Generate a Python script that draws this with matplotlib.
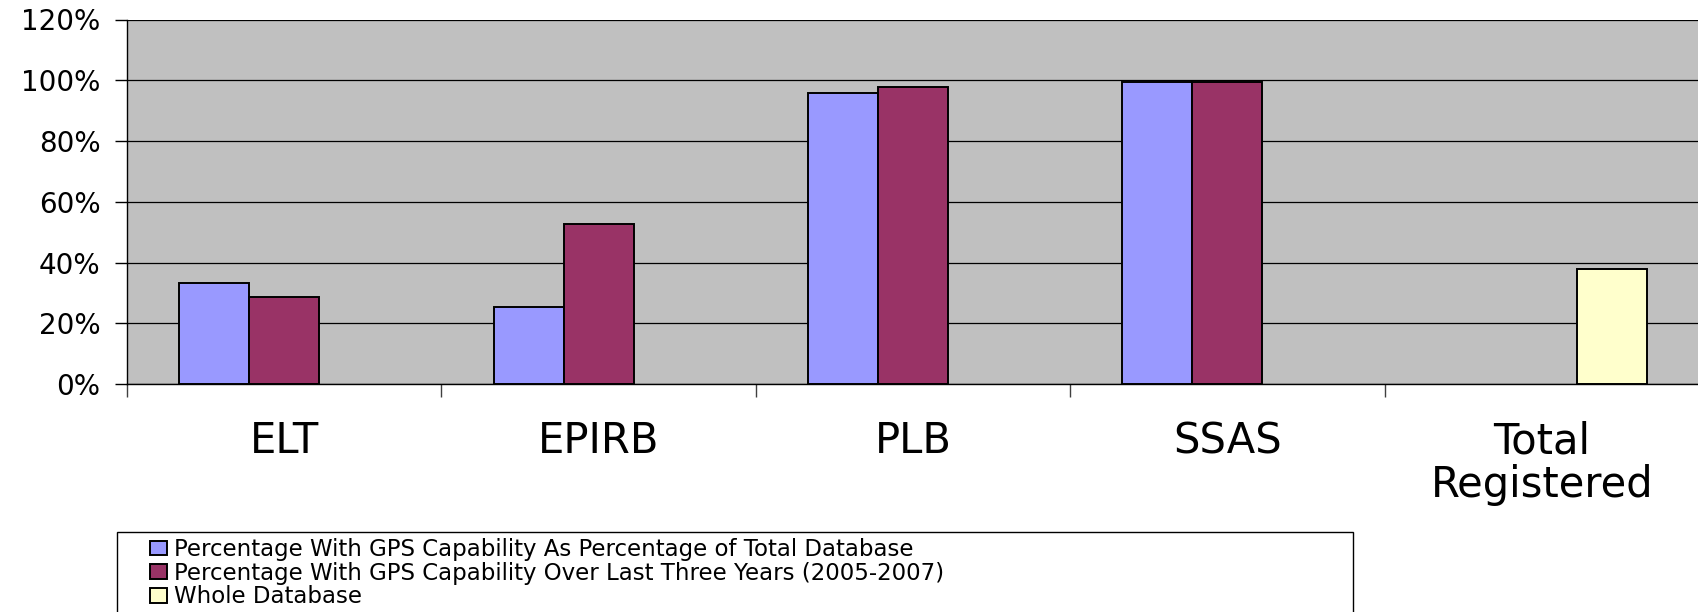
"""Bar chart of GPS capability by beacon type."""

import numpy as np
import matplotlib
matplotlib.use('Agg')
import matplotlib.pyplot as plt
from matplotlib.patches import Rectangle
from matplotlib.ticker import PercentFormatter


# Data (percent)
categories = ['ELT', 'EPIRB', 'PLB', 'SSAS', 'Total\nRegistered']
gps_total_db = [33.3, 25.5, 95.7, 99.3, np.nan]
gps_last_three = [28.7, 52.7, 97.8, 99.3, np.nan]
whole_db = [np.nan, np.nan, np.nan, np.nan, 37.7]
series_names = ['Percentage With GPS Capability As Percentage of Total Database',
                'Percentage With GPS Capability Over Last Three Years (2005-2007)',
                'Whole Database']
y_ticks = [0, 20, 40, 60, 80, 100, 120]

# Excel classic colours
colors = ['#9999FF', '#993366', '#FFFFCC']
W, H = 1699, 612


def create_plot():
    fig = plt.figure(figsize=(W / 100, H / 100), dpi=100, facecolor='white')
    ax = fig.add_axes([127 / W, 1 - 384 / H, 1 - 127 / W, (384 - 19.5) / H])
    ax.set_facecolor('#C0C0C0')

    n = len(categories)
    centers = np.arange(n) + 0.5
    width = 70 / 314.4
    for k, (vals, col, name) in enumerate(zip([gps_total_db, gps_last_three, whole_db],
                                              colors, series_names)):
        ax.bar(centers + (k - 1) * width, vals, width, color=col, edgecolor='black',
               linewidth=1.4, label=name, zorder=3)

    ax.set_xlim(0, n)
    ax.set_ylim(0, 120)
    ax.set_yticks(y_ticks)
    ax.yaxis.set_major_formatter(PercentFormatter(decimals=0))
    ax.yaxis.grid(True, color='black', linewidth=0.9, zorder=1)
    ax.set_axisbelow(True)

    # category boundaries carry the tick marks, labels sit at the centres
    ax.set_xticks(np.arange(n + 1))
    ax.set_xticklabels([])
    ax.set_xticks(centers, minor=True)
    ax.set_xticklabels(categories, minor=True, fontsize=30, linespacing=1.05)
    ax.tick_params(axis='x', which='minor', length=0, pad=26)
    ax.tick_params(axis='x', which='major', direction='out', length=9, width=1, color='#404040')
    ax.tick_params(axis='y', direction='out', length=9, width=1, labelsize=20, pad=10)

    for side in ['top', 'right']:
        ax.spines[side].set_visible(False)
    for side in ['left', 'bottom']:
        ax.spines[side].set_color('black')
        ax.spines[side].set_linewidth(1)

    # legend frame runs off the bottom of the picture, as in the source
    fig.patches.append(Rectangle((117 / W, -0.05), (1353 - 117) / W, (612 - 532) / H + 0.05,
                                 transform=fig.transFigure, fill=False,
                                 edgecolor='black', linewidth=1))
    handles, labels = ax.get_legend_handles_labels()
    fig.legend(handles, labels, loc='upper left', bbox_to_anchor=(150 / W, 1 - 538 / H),
               frameon=False, fontsize=16.5, labelspacing=0.03, handlelength=0.75,
               handleheight=0.62, handletextpad=0.3, borderpad=0, borderaxespad=0)

    fig.savefig('out.png', dpi=100, facecolor='white')


if __name__ == '__main__':
    create_plot()
